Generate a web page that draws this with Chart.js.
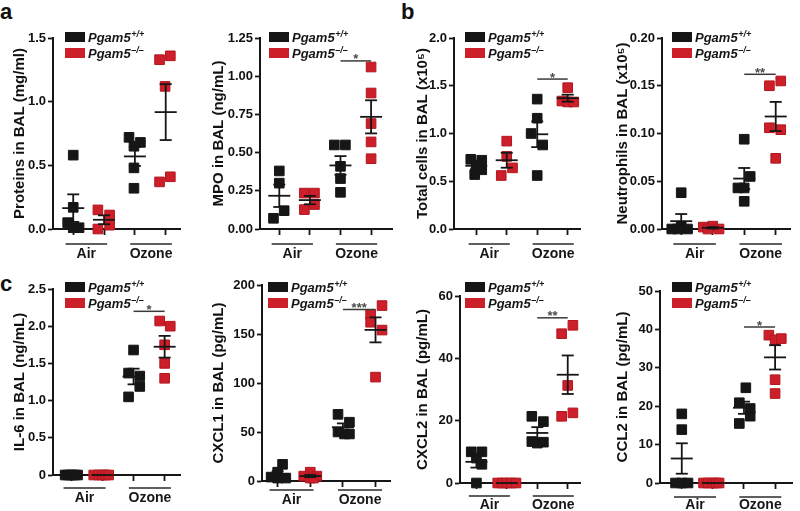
<!DOCTYPE html>
<html>
<head>
<meta charset="utf-8">
<script src="https://cdn.jsdelivr.net/npm/chart.js@4.4.1/dist/chart.umd.min.js"></script>
<style>
  body { margin: 0; background: #fff; width: 800px; height: 511px; position: relative; overflow: hidden; }
  canvas { position: absolute; }
  .tag { position: absolute; font: bold 22px/22px "Liberation Sans", Arial, sans-serif; color: #111; }
</style>
</head>
<body>
<div class="tag" style="left:0px;top:1px">a</div>
<div class="tag" style="left:401px;top:1px">b</div>
<div class="tag" style="left:0px;top:273px">c</div>
<script>
// categories
const groups = ['Air', 'Ozone'];
const genotype = 'Pgam5';
const genotypeSup = ['+/+', '\u2013/\u2013'];
const xPositions = [1, 2, 3, 4]; // WT air, KO air, WT ozone, KO ozone

// Proteins in BAL (mg/ml)
const proteinsTicks = [0, 0.5, 1.0, 1.5];
const proteinsLabels = ['0.0', '0.5', '1.0', '1.5'];
const proteinsWtAir = [0.58, 0.17, 0.05, 0.01, 0.01];
const proteinsWtAirDx = [0, 0, -0.18, 0, 0.19];
const proteinsKoAir = [0.15, 0.11, 0.03, 0.0];
const proteinsKoAirDx = [-0.2, 0.18, 0.18, -0.2];
const proteinsWtOzone = [0.72, 0.65, 0.68, 0.48, 0.32];
const proteinsWtOzoneDx = [-0.19, -0.03, 0.18, -0.03, -0.03];
const proteinsKoOzone = [1.33, 1.36, 1.12, 0.37, 0.41];
const proteinsKoOzoneDx = [-0.2, 0.15, -0.02, -0.2, 0.15];

// MPO in BAL (ng/mL)
const mpoTicks = [0, 0.25, 0.5, 0.75, 1.0, 1.25];
const mpoLabels = ['0.00', '0.25', '0.50', '0.75', '1.00', '1.25'];
const mpoWtAir = [0.07, 0.38, 0.30, 0.12];
const mpoWtAirDx = [-0.19, 0, 0, 0.16];
const mpoKoAir = [0.235, 0.235, 0.127, 0.16];
const mpoKoAirDx = [-0.18, 0.15, -0.18, 0.15];
const mpoWtOzone = [0.55, 0.55, 0.41, 0.33, 0.24];
const mpoWtOzoneDx = [-0.2, 0.16, 0, 0, 0];
const mpoKoOzone = [1.06, 0.89, 0.69, 0.57, 0.46];
const mpoKoOzoneDx = [0, 0, 0, 0, 0];

// Total cells in BAL (x10^5)
const cellsTicks = [0, 0.5, 1.0, 1.5, 2.0];
const cellsLabels = ['0.0', '0.5', '1.0', '1.5', '2.0'];
const cellsWtAir = [0.73, 0.72, 0.67, 0.62, 0.57];
const cellsWtAirDx = [-0.18, 0.18, 0, 0.18, -0.05];
const cellsKoAir = [0.92, 0.76, 0.56, 0.64];
const cellsKoAirDx = [0, 0, -0.18, 0.19];
const cellsWtOzone = [1.36, 1.16, 1.0, 0.88, 0.56];
const cellsWtOzoneDx = [0, 0, -0.2, 0.18, 0];
const cellsKoOzone = [1.48, 1.34, 1.33, 1.33];
const cellsKoOzoneDx = [0, -0.19, 0, 0.2];

// Neutrophils in BAL (x10^5)
const neutTicks = [0, 0.05, 0.10, 0.15, 0.20];
const neutLabels = ['0.00', '0.05', '0.10', '0.15', '0.20'];
const neutWtAir = [0.038, 0.003, 0, 0, 0];
const neutWtAirDx = [0, 0, -0.3, -0.12, 0.2];
const neutKoAir = [0.002, 0.003, 0, 0];
const neutKoAirDx = [-0.3, 0, -0.15, 0.2];
const neutWtOzone = [0.094, 0.055, 0.043, 0.043, 0.029];
const neutWtOzoneDx = [0, 0.19, -0.2, 0, 0];
const neutKoOzone = [0.15, 0.155, 0.106, 0.104, 0.074];
const neutKoOzoneDx = [-0.2, 0.16, -0.2, 0.16, 0];

// IL-6 in BAL (ng/mL)
const il6Ticks = [0, 0.5, 1.0, 1.5, 2.0, 2.5];
const il6Labels = ['0', '0.5', '1.0', '1.5', '2.0', '2.5'];
const il6WtAir = [0, 0, 0, 0, 0];
const il6WtAirDx = [-0.2, -0.1, 0, 0.1, 0.2];
const il6KoAir = [0, 0, 0, 0, 0];
const il6KoAirDx = [-0.28, -0.12, 0, 0.1, 0.2];
const il6WtOzone = [1.68, 1.37, 1.33, 1.19, 1.05];
const il6WtOzoneDx = [0, -0.16, 0.2, 0.2, -0.16];
const il6KoOzone = [2.07, 2.0, 1.75, 1.5, 1.3];
const il6KoOzoneDx = [-0.16, 0.18, 0, 0, 0];

// CXCL1 in BAL (pg/mL)
const cxcl1Ticks = [0, 50, 100, 150, 200];
const cxcl1Labels = ['0', '50', '100', '150', '200'];
const cxcl1WtAir = [17, 9, 4, 3, 3];
const cxcl1WtAirDx = [0.15, 0, -0.2, 0, 0.25];
const cxcl1KoAir = [9, 5, 5, 3, 3];
const cxcl1KoAirDx = [0, -0.2, 0.2, 0, 0.1];
const cxcl1WtOzone = [68, 60, 50, 48, 48];
const cxcl1WtOzoneDx = [-0.15, 0.2, -0.15, 0.05, 0.2];
const cxcl1KoOzone = [179, 170, 162, 154, 106];
const cxcl1KoOzoneDx = [0.2, -0.15, -0.15, 0.2, 0];

// CXCL2 in BAL (pg/mL)
const cxcl2Ticks = [0, 20, 40, 60];
const cxcl2Labels = ['0', '20', '40', '60'];
const cxcl2WtAir = [10, 10, 8, 6, 0];
const cxcl2WtAirDx = [-0.17, 0.18, 0, 0.18, 0];
const cxcl2KoAir = [0, 0, 0, 0, 0];
const cxcl2KoAirDx = [-0.3, -0.15, 0, 0.15, 0.3];
const cxcl2WtOzone = [21.4, 19.7, 13.3, 12.8, 13.1];
const cxcl2WtOzoneDx = [-0.18, 0.2, -0.18, 0, 0.2];
const cxcl2KoOzone = [47.9, 50.6, 31.3, 21.4, 22.5];
const cxcl2KoOzoneDx = [-0.2, 0.17, 0, -0.2, 0.17];

// CCL2 in BAL (pg/mL)
const ccl2Ticks = [0, 10, 20, 30, 40, 50];
const ccl2Labels = ['0', '10', '20', '30', '40', '50'];
const ccl2WtAir = [18, 13.9, 0, 0, 0];
const ccl2WtAirDx = [0, 0, -0.2, 0, 0.2];
const ccl2KoAir = [0, 0, 0, 0, 0];
const ccl2KoAirDx = [-0.3, -0.15, 0, 0.1, 0.2];
const ccl2WtOzone = [24.8, 20.9, 15.5, 17.4, 19.4];
const ccl2WtOzoneDx = [0.06, -0.15, -0.15, 0.2, 0.2];
const ccl2KoOzone = [38.5, 37.3, 37.6, 26.9, 23.3];
const ccl2KoOzoneDx = [-0.2, 0, 0.2, 0, 0];

const FONT = '"Liberation Sans", Arial, Helvetica, sans-serif';
const INK = '#161616';
const RED = '#cc1f2a';

// layout of each panel on the page (px) and its data
const panels = [
  { title: 'Proteins in BAL (mg/ml)', ticks: proteinsTicks, labels: proteinsLabels,
    wt: [proteinsWtAir, proteinsWtOzone], wtDx: [proteinsWtAirDx, proteinsWtOzoneDx],
    ko: [proteinsKoAir, proteinsKoOzone], koDx: [proteinsKoAirDx, proteinsKoOzoneDx],
    sig: null, titleX: 20, L: 53, T: 38, R: 185, B: 229, xmin: 0.344, xmax: 4.47,
    legX: 65, legY: 32, lineY: 244, textY: 254, bottom: 263 },
  { title: 'MPO in BAL (ng/mL)', ticks: mpoTicks, labels: mpoLabels,
    wt: [mpoWtAir, mpoWtOzone], wtDx: [mpoWtAirDx, mpoWtOzoneDx],
    ko: [mpoKoAir, mpoKoOzone], koDx: [mpoKoAirDx, mpoKoOzoneDx],
    sig: [1.1, '*'], titleX: 219, L: 260, T: 38, R: 397, B: 229, xmin: 0.37, xmax: 4.69,
    legX: 269, legY: 32, lineY: 244, textY: 254, bottom: 263 },
  { title: 'Total cells in BAL (x10\u2075)', ticks: cellsTicks, labels: cellsLabels,
    wt: [cellsWtAir, cellsWtOzone], wtDx: [cellsWtAirDx, cellsWtOzoneDx],
    ko: [cellsKoAir, cellsKoOzone], koDx: [cellsKoAirDx, cellsKoOzoneDx],
    sig: [1.57, '*'], titleX: 423, L: 454, T: 38, R: 585, B: 229, xmin: 0.27, xmax: 4.41,
    legX: 465, legY: 32, lineY: 244, textY: 254, bottom: 263 },
  { title: 'Neutrophils in BAL (x10\u2075)', ticks: neutTicks, labels: neutLabels,
    wt: [neutWtAir, neutWtOzone], wtDx: [neutWtAirDx, neutWtOzoneDx],
    ko: [neutKoAir, neutKoOzone], koDx: [neutKoAirDx, neutKoOzoneDx],
    sig: [0.162, '**'], titleX: 623, L: 662, T: 38, R: 795, B: 229, xmin: 0.39, xmax: 4.46,
    legX: 672, legY: 32, lineY: 244, textY: 254, bottom: 263 },
  { title: 'IL-6 in BAL (ng/mL)', ticks: il6Ticks, labels: il6Labels,
    wt: [il6WtAir, il6WtOzone], wtDx: [il6WtAirDx, il6WtOzoneDx],
    ko: [il6KoAir, il6KoOzone], koDx: [il6KoAirDx, il6KoOzoneDx],
    sig: [2.2, '*'], titleX: 20, L: 53, T: 289, R: 185, B: 475, xmin: 0.41, xmax: 4.5,
    legX: 65, legY: 282, lineY: 488, textY: 498, bottom: 511 },
  { title: 'CXCL1 in BAL (pg/mL)', ticks: cxcl1Ticks, labels: cxcl1Labels,
    wt: [cxcl1WtAir, cxcl1WtOzone], wtDx: [cxcl1WtAirDx, cxcl1WtOzoneDx],
    ko: [cxcl1KoAir, cxcl1KoOzone], koDx: [cxcl1KoAirDx, cxcl1KoOzoneDx],
    sig: [175, '***'], titleX: 219, L: 262, T: 285, R: 395, B: 481, xmin: 0.52, xmax: 4.45,
    legX: 268, legY: 282, lineY: 490, textY: 500, bottom: 511 },
  { title: 'CXCL2 in BAL (pg/mL)', ticks: cxcl2Ticks, labels: cxcl2Labels,
    wt: [cxcl2WtAir, cxcl2WtOzone], wtDx: [cxcl2WtAirDx, cxcl2WtOzoneDx],
    ko: [cxcl2KoAir, cxcl2KoOzone], koDx: [cxcl2KoAirDx, cxcl2KoOzoneDx],
    sig: [53, '**'], titleX: 423, L: 460, T: 296, R: 585, B: 483, xmin: 0.46, xmax: 4.41,
    legX: 465, legY: 282, lineY: 496, textY: 505, bottom: 511 },
  { title: 'CCL2 in BAL (pg/mL)', ticks: ccl2Ticks, labels: ccl2Labels,
    wt: [ccl2WtAir, ccl2WtOzone], wtDx: [ccl2WtAirDx, ccl2WtOzoneDx],
    ko: [ccl2KoAir, ccl2KoOzone], koDx: [ccl2KoAirDx, ccl2KoOzoneDx],
    sig: [40.6, '*'], titleX: 623, L: 660, T: 291, R: 800, B: 483, xmin: 0.3, xmax: 4.55,
    legX: 672, legY: 282, lineY: 497, textY: 505, bottom: 511 }
];

function meanSem(vals) {
  const n = vals.length;
  const m = vals.reduce((a, b) => a + b, 0) / n;
  if (n < 2) return [m, 0];
  const v = vals.reduce((a, b) => a + (b - m) * (b - m), 0) / (n - 1);
  return [m, Math.sqrt(v / n)];
}

function seg(ctx, x1, y1, x2, y2) {
  ctx.beginPath();
  ctx.moveTo(x1, y1);
  ctx.lineTo(x2, y2);
  ctx.stroke();
}

function makePanel(p) {
  const left = p.titleX - 9;
  // canvas must also hold the legend, which sits above the top tick
  const top = Math.min(p.T - 12, p.legY - 8);
  const padR = p.R >= 800 ? 0 : 3;
  const canvas = document.createElement('canvas');
  canvas.width = p.R + padR - left;
  canvas.height = p.bottom - top;
  canvas.style.left = left + 'px';
  canvas.style.top = top + 'px';
  document.body.appendChild(canvas);

  const pts = (vals, dx, pos) => vals.map((v, i) => ({ x: pos + dx[i], y: v }));

  // error bars, significance, legend and group labels
  const decor = {
    id: 'decor',
    afterDatasetsDraw(chart) {
      const { ctx, scales: { x, y } } = chart;
      ctx.save();
      ctx.strokeStyle = INK;
      ctx.lineWidth = 1.8;
      const sets = [[p.wt[0], xPositions[0]], [p.ko[0], xPositions[1]], [p.wt[1], xPositions[2]], [p.ko[1], xPositions[3]]];
      sets.forEach(([vals, pos]) => {
        const [m, s] = meanSem(vals);
        const cx = x.getPixelForValue(pos);
        const ym = y.getPixelForValue(m);
        const yh = y.getPixelForValue(m + s);
        const yl = y.getPixelForValue(m - s);
        seg(ctx, cx - 11, ym, cx + 11, ym);
        if (s > 0) {
          seg(ctx, cx, yh, cx, yl);
          seg(ctx, cx - 6, yh, cx + 6, yh);
          seg(ctx, cx - 6, yl, cx + 6, yl);
        }
      });

      if (p.sig) {
        const x1 = x.getPixelForValue(xPositions[2]);
        const x2 = x.getPixelForValue(xPositions[3]);
        const yy = y.getPixelForValue(p.sig[0]);
        ctx.strokeStyle = '#3a3a3a';
        ctx.lineWidth = 1.5;
        seg(ctx, x1, yy, x2, yy);
        ctx.fillStyle = '#4a4a4a';
        ctx.font = 'bold 13px ' + FONT;
        ctx.textAlign = 'center';
        ctx.textBaseline = 'alphabetic';
        ctx.fillText(p.sig[1], (x1 + x2) / 2, yy + 2.5);
      }

      // legend
      const lx = p.legX - left, ly = p.legY - top;
      [INK, RED].forEach((c, i) => {
        const ry = ly + i * 16;
        ctx.fillStyle = c;
        ctx.fillRect(lx, ry, 20, 10);
        ctx.fillStyle = INK;
        ctx.textAlign = 'left';
        ctx.textBaseline = 'alphabetic';
        ctx.font = 'italic bold 13px ' + FONT;
        ctx.fillText(genotype, lx + 23, ry + 10);
        const w = ctx.measureText(genotype).width;
        ctx.font = 'italic bold 9px ' + FONT;
        ctx.fillText(genotypeSup[i], lx + 23 + w + 0.5, ry + 5);
      });

      // group underlines and labels
      ctx.strokeStyle = '#2a2a2a';
      ctx.lineWidth = 1.4;
      ctx.fillStyle = INK;
      ctx.font = 'bold 14px ' + FONT;
      ctx.textAlign = 'center';
      ctx.textBaseline = 'middle';
      [[0.75, 2.1], [2.85, 4.2]].forEach(([a, b], i) => {
        const xa = x.getPixelForValue(a), xb = x.getPixelForValue(b);
        seg(ctx, xa, p.lineY - top, xb, p.lineY - top);
        ctx.fillText(groups[i], (xa + xb) / 2, p.textY - top);
      });
      ctx.restore();
    }
  };

  new Chart(canvas, {
    type: 'scatter',
    data: {
      datasets: [
        {
          data: [...pts(p.wt[0], p.wtDx[0], xPositions[0]), ...pts(p.wt[1], p.wtDx[1], xPositions[2])],
          backgroundColor: INK, borderColor: INK, borderWidth: 1,
          pointStyle: 'rect', pointRadius: 6.8, clip: false
        },
        {
          data: [...pts(p.ko[0], p.koDx[0], xPositions[1]), ...pts(p.ko[1], p.koDx[1], xPositions[3])],
          backgroundColor: RED, borderColor: '#b3161f', borderWidth: 1,
          pointStyle: 'rect', pointRadius: 6.8, clip: false
        }
      ]
    },
    options: {
      responsive: false,
      animation: false,
      events: [],
      layout: { padding: { top: p.T - top, right: padR, left: 0, bottom: 0 } },
      plugins: { legend: { display: false }, tooltip: { enabled: false } },
      scales: {
        x: {
          type: 'linear',
          min: p.xmin,
          max: p.xmax,
          afterBuildTicks: s => { s.ticks = xPositions.map(v => ({ value: v })); },
          afterFit: s => { s.height = p.bottom - p.B; },
          ticks: { callback: () => '', padding: 0 },
          grid: { drawOnChartArea: false, drawTicks: true, tickLength: 6, tickWidth: 1.8, tickColor: INK },
          border: { display: true, color: INK, width: 2 }
        },
        y: {
          type: 'linear',
          min: p.ticks[0],
          max: p.ticks[p.ticks.length - 1],
          afterBuildTicks: s => { s.ticks = p.ticks.map(v => ({ value: v })); },
          afterFit: s => { s.width = p.L - left; },
          ticks: {
            callback: (v, i) => p.labels[i],
            color: '#111',
            padding: 2,
            font: { family: FONT, size: 13, weight: 'bold' }
          },
          grid: { drawOnChartArea: false, drawTicks: true, tickLength: 5, tickWidth: 1.8, tickColor: INK },
          border: { display: true, color: INK, width: 2 },
          title: {
            display: true,
            text: p.title,
            color: '#111',
            padding: 0,
            font: { family: FONT, size: 15, weight: 'bold' }
          }
        }
      }
    },
    plugins: [decor]
  });
}

panels.forEach(makePanel);
</script>
</body>
</html>
